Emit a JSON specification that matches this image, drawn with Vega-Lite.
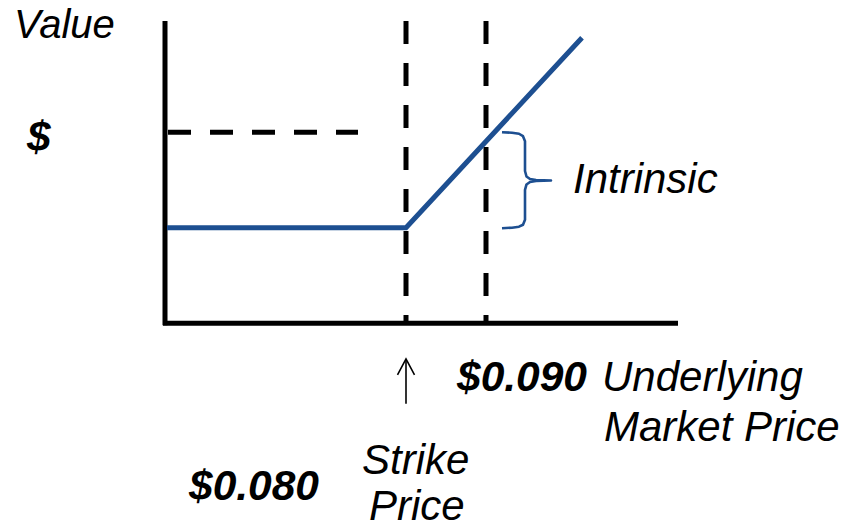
{
  "$schema": "https://vega.github.io/schema/vega-lite/v6.json",
  "width": 843,
  "height": 528,
  "padding": 0,
  "autosize": {"type": "fit", "contains": "padding"},
  "background": "white",
  "config": {"view": {"stroke": null}},
  "encoding": {
    "x": {"field": "x", "type": "quantitative", "scale": {"domain": [0, 843]}, "axis": null},
    "y": {"field": "y", "type": "quantitative", "scale": {"domain": [528, 0]}, "axis": null}
  },
  "layer": [
    {
      "data": {"values": [
        {"part": "value axis", "x": 165, "y": 21, "x2": 165, "y2": 327},
        {"part": "price axis", "x": 163, "y": 325, "x2": 678, "y2": 325}
      ]},
      "mark": {"type": "rule", "color": "black", "strokeWidth": 5},
      "encoding": {"x2": {"field": "x2"}, "y2": {"field": "y2"}}
    },
    {
      "data": {"values": [
        {"part": "strike", "x": 406, "y": 21, "x2": 406, "y2": 325},
        {"part": "market", "x": 486, "y": 21, "x2": 486, "y2": 325},
        {"part": "value level", "x": 168, "y": 133, "x2": 358, "y2": 133}
      ]},
      "mark": {"type": "rule", "color": "black", "strokeWidth": 5, "strokeDash": [23, 19]},
      "encoding": {"x2": {"field": "x2"}, "y2": {"field": "y2"}}
    },
    {
      "data": {"values": [
        {"i": 0, "x": 167, "y": 229},
        {"i": 1, "x": 406, "y": 229},
        {"i": 2, "x": 582, "y": 38}
      ]},
      "mark": {"type": "line", "color": "#1d4f91", "strokeWidth": 5, "strokeCap": "butt"},
      "encoding": {"order": {"field": "i", "type": "quantitative"}}
    },
    {
      "data": {"values": [
        {"i": 0, "x": 502, "y": 133},
        {"i": 1, "x": 512, "y": 133.5},
        {"i": 2, "x": 519, "y": 134.5},
        {"i": 3, "x": 523, "y": 137},
        {"i": 4, "x": 525, "y": 142},
        {"i": 5, "x": 525, "y": 172},
        {"i": 6, "x": 526.5, "y": 177.5},
        {"i": 7, "x": 530, "y": 180},
        {"i": 8, "x": 536, "y": 181},
        {"i": 9, "x": 551, "y": 181.5},
        {"i": 10, "x": 536, "y": 182},
        {"i": 11, "x": 530, "y": 183},
        {"i": 12, "x": 526.5, "y": 185.5},
        {"i": 13, "x": 525, "y": 191},
        {"i": 14, "x": 525, "y": 221},
        {"i": 15, "x": 523, "y": 226},
        {"i": 16, "x": 519, "y": 228},
        {"i": 17, "x": 512, "y": 229},
        {"i": 18, "x": 502, "y": 229.5}
      ]},
      "mark": {"type": "line", "color": "#1d4f91", "strokeWidth": 2.6, "strokeJoin": "round"},
      "encoding": {"order": {"field": "i", "type": "quantitative"}}
    },
    {
      "data": {"values": [
        {"x": 406, "y": 361, "x2": 406, "y2": 406}
      ]},
      "mark": {"type": "rule", "color": "black", "strokeWidth": 1.6},
      "encoding": {"x2": {"field": "x2"}, "y2": {"field": "y2"}}
    },
    {
      "data": {"values": [
        {"i": 0, "x": 397.5, "y": 377},
        {"i": 1, "x": 406, "y": 361},
        {"i": 2, "x": 414.5, "y": 377}
      ]},
      "mark": {"type": "line", "color": "black", "strokeWidth": 1.6},
      "encoding": {"order": {"field": "i", "type": "quantitative"}}
    },
    {
      "data": {"values": [
        {"label": "Value", "x": 14, "y": 38}
      ]},
      "mark": {"type": "text", "align": "left", "baseline": "alphabetic", "font": "Liberation Sans", "fontStyle": "italic", "fontSize": 40, "color": "black"},
      "encoding": {"text": {"field": "label"}}
    },
    {
      "data": {"values": [
        {"label": "Intrinsic", "x": 573, "y": 194},
        {"label": "Underlying", "x": 602, "y": 393},
        {"label": "Market Price", "x": 604, "y": 444},
        {"label": "Strike", "x": 362, "y": 477},
        {"label": "Price", "x": 369, "y": 523}
      ]},
      "mark": {"type": "text", "align": "left", "baseline": "alphabetic", "font": "Liberation Sans", "fontStyle": "italic", "fontSize": 42, "color": "black"},
      "encoding": {"text": {"field": "label"}}
    },
    {
      "data": {"values": [
        {"label": "$", "x": 27, "y": 152},
        {"label": "$0.090", "x": 457, "y": 393},
        {"label": "$0.080", "x": 189, "y": 503}
      ]},
      "mark": {"type": "text", "align": "left", "baseline": "alphabetic", "font": "Liberation Sans", "fontStyle": "italic", "fontWeight": "bold", "fontSize": 42.5, "color": "black"},
      "encoding": {"text": {"field": "label"}}
    }
  ]
}
